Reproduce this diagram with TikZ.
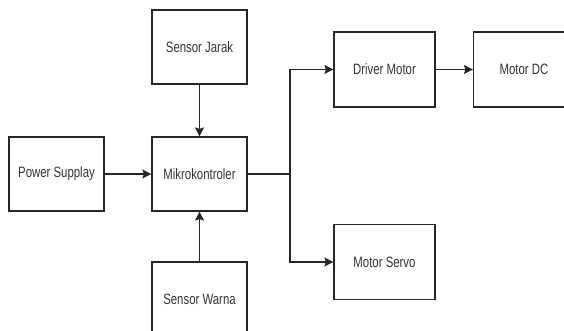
\documentclass[tikz,border=0pt]{standalone}
\usepackage{fontspec}
\setmainfont[FakeStretch=0.76]{Liberation Sans}
\usetikzlibrary{arrows.meta}
\begin{document}
\begin{tikzpicture}[x=1pt,y=-1pt,
  blk/.style={draw=black!85,line width=1.2pt,minimum width=95pt,minimum height=74pt,inner sep=0pt,font=\fontsize{15}{17}\selectfont,text=black!80},
  wide/.style={minimum width=101pt,minimum height=75pt},
  conn/.style={draw=black!85,line width=1.2pt},
  arr/.style={conn,-{Stealth[length=9pt,width=9pt,inset=1.5pt]}}]
\path[use as bounding box] (0,0) rectangle (564,331);
\node[blk] (jarak) at (199.5,47) {Sensor Jarak};
\node[blk] (power) at (56.5,174) {Power Supplay};
\node[blk] (mikro) at (199.5,174) {Mikrokontroler};
\node[blk] (warna) at (199.5,299) {Sensor Warna};
\node[blk,wide] (driver) at (384.5,69.5) {Driver Motor};
\node[blk,wide] (dc) at (524,69.5) {Motor DC};
\node[blk,wide] (servo) at (384.5,262) {Motor Servo};
\coordinate (split) at (290,174);
\draw[arr] (jarak) -- (mikro);
\draw[arr] (warna) -- (mikro);
\draw[arr] (power) -- (mikro);
\draw[conn] (mikro) -- (split);
\draw[arr] (split) |- (driver);
\draw[arr] (split) |- (servo);
\draw[arr] (driver) -- (dc);
\end{tikzpicture}
\end{document}
